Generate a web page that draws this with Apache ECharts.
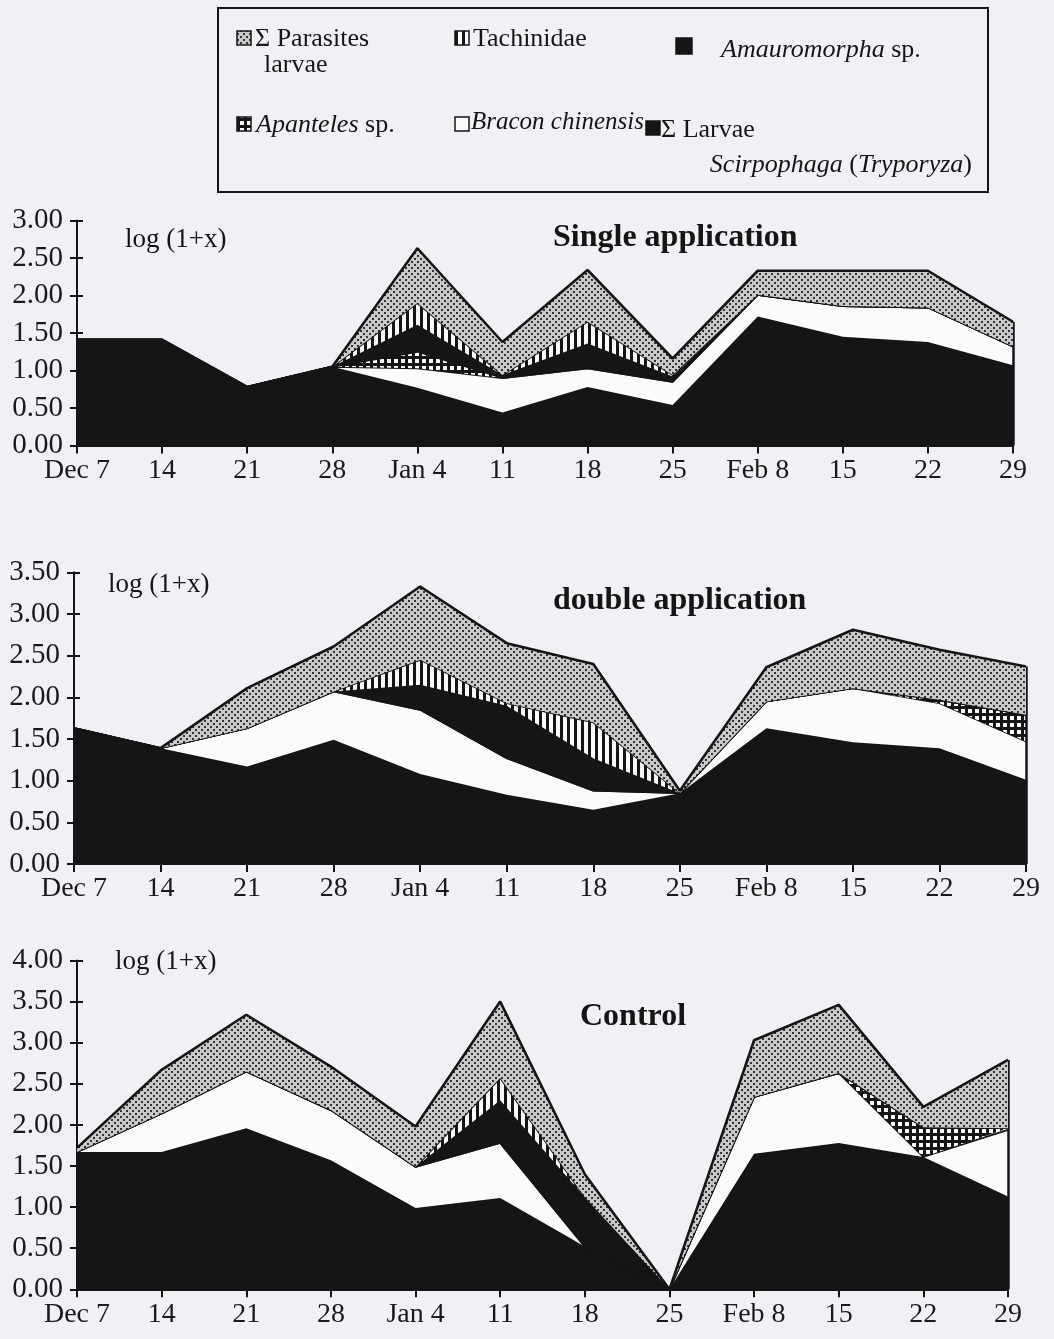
<!DOCTYPE html>
<html><head><meta charset="utf-8">
<script src="https://cdn.jsdelivr.net/npm/echarts@6/dist/echarts.min.js"></script>
<style>html,body{margin:0;padding:0;background:#f0f1f4;}#c{width:1054px;height:1339px;}</style>
</head><body><div id="c"></div>
<script>
// ---------- DATA ----------
const categories = ['Dec 7','14','21','28','Jan 4','11','18','25','Feb 8','15','22','29'];
const panelTitles = ['Single application','double application','Control'];
const yMax = [3.0, 3.5, 4.0];
const yInterval = 0.5;

// Single application (stacked layers, log(1+x))
const singleLarvae       = [1.41,1.41,0.78,1.05,0.77,0.44,0.78,0.54,1.72,1.45,1.38,1.07];
const singleBracon       = [0,0,0,0,0.26,0.46,0.25,0.31,0.29,0.41,0.46,0.25];
const singleApanteles    = [0,0,0,0,0.22,0,0,0,0,0,0,0];
const singleAmauromorpha = [0,0,0,0,0.36,0.04,0.33,0.07,0,0,0,0];
const singleTachinidae   = [0,0,0,0,0.29,0,0.29,0.02,0,0,0,0];
const singleParasites    = [0,0,0,0,0.73,0.44,0.69,0.22,0.32,0.47,0.49,0.33];

// Double application
const doubleLarvae       = [1.63,1.39,1.17,1.49,1.08,0.83,0.65,0.85,1.63,1.46,1.39,1.01];
const doubleBracon       = [0,0,0.46,0.58,0.77,0.44,0.23,0,0.32,0.65,0.54,0.46];
const doubleApanteles    = [0,0,0,0,0,0,0,0,0,0,0.04,0.32];
const doubleAmauromorpha = [0,0,0,0,0.30,0.63,0.39,0,0,0,0,0];
const doubleTachinidae   = [0,0,0,0,0.30,0.03,0.43,0,0,0,0,0];
const doubleParasites    = [0,0,0.48,0.54,0.88,0.72,0.70,0.03,0.41,0.70,0.60,0.58];

// Control
const controlLarvae       = [1.67,1.67,1.96,1.57,0.99,1.11,0.52,0,1.65,1.78,1.61,1.13];
const controlBracon       = [0,0.47,0.69,0.61,0.50,0.67,0,0,0.69,0.85,0,0.81];
const controlApanteles    = [0,0,0,0,0,0,0,0,0,0,0.36,0.02];
const controlAmauromorpha = [0,0,0,0,0,0.52,0.60,0,0,0,0,0];
const controlTachinidae   = [0,0,0,0,0,0.27,0,0,0,0,0,0];
const controlParasites    = [0.05,0.53,0.69,0.53,0.49,0.93,0.28,0,0.69,0.83,0.25,0.83];

const seriesNames = ['Σ Larvae Scirpophaga (Tryporyza)','Bracon chinensis','Apanteles sp.','Amauromorpha sp.','Tachinidae','Σ Parasites larvae'];
const panels = [
  [singleLarvae,singleBracon,singleApanteles,singleAmauromorpha,singleTachinidae,singleParasites],
  [doubleLarvae,doubleBracon,doubleApanteles,doubleAmauromorpha,doubleTachinidae,doubleParasites],
  [controlLarvae,controlBracon,controlApanteles,controlAmauromorpha,controlTachinidae,controlParasites]
];

// ---------- STYLE ----------
const INK = '#161515';
const PAPER = '#f0f1f4';
const WHITE = '#fbfbfb';
const FONT = '"Liberation Serif","Times New Roman",serif';

function makeCanvas(w,h,draw){const c=document.createElement('canvas');c.width=w;c.height=h;draw(c.getContext('2d'));return c;}
const stippleC = makeCanvas(6,6,x=>{x.fillStyle='#c9c9c9';x.fillRect(0,0,6,6);x.fillStyle='#333';x.fillRect(0,0,2,2);x.fillRect(3,3,2,2);});
const stripeC  = makeCanvas(7,7,x=>{x.fillStyle=WHITE;x.fillRect(0,0,7,7);x.fillStyle=INK;x.fillRect(0,0,3,7);});
const gridC    = makeCanvas(7,7,x=>{x.fillStyle=INK;x.fillRect(0,0,7,7);x.fillStyle=WHITE;x.fillRect(2,2,4,4);});
const pat = c => ({image:c, repeat:'repeat'});
const fills = [INK, WHITE, pat(gridC), INK, pat(stripeC), pat(stippleC)];

const grids = [
  {left:77, right:41, top:220.5, bottom:893.5},
  {left:74, right:28, top:572.3, bottom:475},
  {left:77, right:46, top:960.5, bottom:49.7}
];

const xAxes = [], yAxes = [], series = [];
grids.forEach((g,i)=>{
  xAxes.push({gridIndex:i,type:'category',data:categories,boundaryGap:false,
    axisLine:{lineStyle:{color:INK,width:2}},
    axisTick:{interval:0,length:8,lineStyle:{color:INK,width:2}},
    axisLabel:{interval:0,fontFamily:FONT,fontSize:28,color:'#1a1a1a',margin:11},
    splitLine:{show:false}});
  yAxes.push({gridIndex:i,type:'value',position:'left',min:0,max:yMax[i],interval:yInterval,
    axisLine:{show:true,lineStyle:{color:INK,width:2}},
    axisTick:{show:true,length:7,lineStyle:{color:INK,width:2}},
    axisLabel:{formatter:v=>v.toFixed(2),fontFamily:FONT,fontSize:29,color:'#1a1a1a',margin:14},
    splitLine:{show:false}});
  yAxes.push({gridIndex:i,type:'value',position:'left',offset:0,min:0,max:yMax[i],interval:yInterval,z:10,
    axisLine:{show:false},
    axisTick:{show:true,inside:true,length:6,lineStyle:{color:INK,width:2}},
    axisLabel:{show:false},splitLine:{show:false}});
  const layers = panels[i];
  const totals = categories.map((_,k)=>layers.reduce((s,a)=>s+a[k],0));
  layers.forEach((arr,j)=>{
    const s = {name:seriesNames[j],type:'line',xAxisIndex:i,yAxisIndex:i*2,stack:'p'+i,
      data:arr,symbol:'none',showSymbol:false,
      lineStyle:{color:INK,width:j===5?2.6:1.8},
      areaStyle:{color:fills[j],opacity:1},
      itemStyle:{color:INK},z:2+j,animation:false};
    if(j===5){
      const last = categories.length-1;
      s.markLine = {silent:true,symbol:'none',animation:false,label:{show:false},
        lineStyle:{color:INK,width:2.5,type:'solid'},
        data:[[{coord:[categories[last],0]},{coord:[categories[last],totals[last]]}]]};
    }
    series.push(s);
  });
});

// ---------- GRAPHIC (legend box, titles, axis notes) ----------
const txt = (x,y,text,extra)=>Object.assign({type:'text',x,y,style:Object.assign({text,fontFamily:FONT,fontSize:26,fill:'#151515',verticalAlign:'middle',align:'left'},extra||{})});
const icon = (x,y,fill,s)=>({type:'rect',shape:{x,y,width:s||14,height:s||14},style:{fill,stroke:INK,lineWidth:1.5}});
const IT = {fontStyle:'italic',fontFamily:FONT,fontSize:26};
const graphic = [
  {type:'rect',shape:{x:218,y:8,width:770,height:184},style:{fill:'none',stroke:INK,lineWidth:2}},
  icon(237,31,pat(stippleC)), txt(255,39,'Σ Parasites'), txt(264,65,'larvae'),
  icon(455,31,pat(stripeC)), txt(473,39,'Tachinidae'),
  icon(676,38,INK,16), txt(721,50,'{i|Amauromorpha} sp.',{rich:{i:IT}}),
  icon(237,117,pat(gridC)), txt(256,125,'{i|Apanteles} sp.',{rich:{i:IT}}),
  icon(455,117,WHITE), txt(471,122,'Bracon chinensis',{fontStyle:'italic',fontSize:25}),
  icon(646,121,INK), txt(661,130,'Σ Larvae'),
  txt(972,165,'{i|Scirpophaga} ({i|Tryporyza})',{align:'right',rich:{i:IT}}),
  txt(553,238,panelTitles[0],{fontWeight:'bold',fontSize:32}),
  txt(553,601,panelTitles[1],{fontWeight:'bold',fontSize:32}),
  txt(580,1017,panelTitles[2],{fontWeight:'bold',fontSize:32}),
  txt(125,240,'log (1+x)',{fontSize:27}),
  txt(108,585,'log (1+x)',{fontSize:27}),
  txt(115,962,'log (1+x)',{fontSize:27})
];

const chart = echarts.init(document.getElementById('c'),null,{renderer:'canvas'});
chart.setOption({
  backgroundColor:PAPER,animation:false,
  grid:grids, xAxis:xAxes, yAxis:yAxes, series, graphic
});
</script></body></html>
